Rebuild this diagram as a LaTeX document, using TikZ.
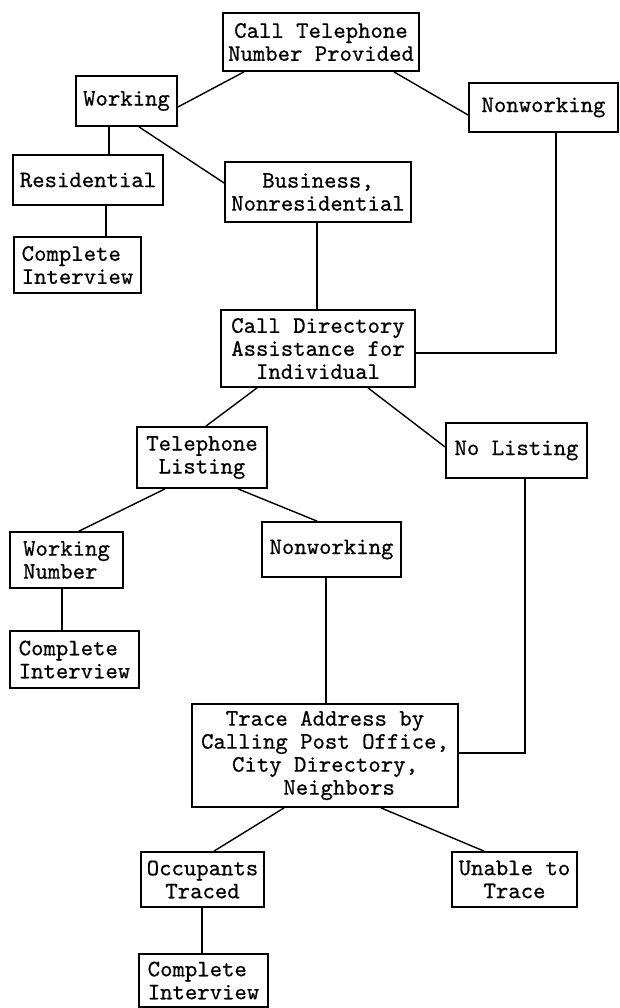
\documentclass[tikz,border=0pt]{standalone}
\usepackage{fontspec}
\newfontfamily\twfont{lmmono10-regular.otf}[BoldFont=lmmono10-regular.otf,BoldFeatures={FakeBold=0.6}]
\begin{document}
\begin{tikzpicture}[x=1pt,y=-1pt,
  box/.style={draw,line width=1.8pt,inner sep=0pt,align=center,
    font=\twfont\bfseries\fontsize{23.6}{23}\selectfont},
  lbox/.style={box,align=left},
  conn/.style={line width=1.4pt}]
\useasboundingbox[fill=white] (0,0) rectangle (620,1008);
% boxes
\node[box,minimum width=196pt,minimum height=58pt] (ctn) at (321,42) {Call Telephone\\Number Provided};
\node[box,minimum width=101pt,minimum height=50pt] (wrk) at (126.5,101) {Working};
\node[box,minimum width=149pt,minimum height=49pt] (nw1) at (543.5,107.5) {Nonworking};
\node[box,minimum width=150pt,minimum height=50pt] (res) at (88,180) {Residential};
\node[box,minimum width=186pt,minimum height=60pt] (bus) at (318,192) {Business,\\Nonresidential};
\node[lbox,minimum width=127pt,minimum height=56pt] (ci1) at (77.5,265) {Complete\\Interview};
\node[box,minimum width=194pt,minimum height=77pt] (cda) at (318,348.5) {Call Directory\\Assistance for\\Individual};
\node[box,minimum width=130pt,minimum height=61pt] (tl) at (202,457.5) {Telephone\\Listing};
\node[box,minimum width=141pt,minimum height=55pt] (nl) at (516.5,450.5) {No Listing};
\node[lbox,minimum width=113pt,minimum height=56pt] (wn) at (66.5,560) {Working\\Number};
\node[box,minimum width=139pt,minimum height=55pt] (nw2) at (331.5,549.5) {Nonworking};
\node[lbox,minimum width=129pt,minimum height=57pt] (ci2) at (74.5,659.5) {Complete\\Interview};
\node[box,minimum width=266pt,minimum height=103pt] (tr) at (325,755.5) {Trace Address by\\Calling Post Office,\\City Directory,\\\hspace*{1.2em}Neighbors};
\node[box,minimum width=123pt,minimum height=55pt] (ot) at (202.5,879.5) {Occupants\\Traced};
\node[box,minimum width=125pt,minimum height=55pt] (ut) at (514.5,879.5) {Unable to\\Trace};
\node[lbox,minimum width=129pt,minimum height=53pt] (ci3) at (203.5,980.5) {Complete\\Interview};
% connectors
\draw[conn] (ctn.south -| 244,0) -- (wrk.east |- 0,107);
\draw[conn] (ctn.south -| 394,0) -- (nw1.west |- 0,115);
\draw[conn] (wrk.south -| 109,0) -- (res.north -| 109,0);
\draw[conn] (wrk.south -| 139,0) -- (bus.west |- 0,183);
\draw[conn] (res.south -| 106,0) -- (ci1.north -| 106,0);
\draw[conn] (bus.south -| 317,0) -- (cda.north -| 317,0);
\draw[conn] (nw1.south -| 556,0) -- (556,353) -- (cda.east |- 0,353);
\draw[conn] (cda.south -| 257,0) -- (tl.north -| 206,0);
\draw[conn] (cda.south -| 368,0) -- (nl.west |- 0,447);
\draw[conn] (tl.south -| 165,0) -- (wn.north -| 79,0);
\draw[conn] (tl.south -| 238,0) -- (nw2.north -| 317,0);
\draw[conn] (wn.south -| 62,0) -- (ci2.north -| 62,0);
\draw[conn] (nw2.south -| 326,0) -- (tr.north -| 326,0);
\draw[conn] (nl.south -| 525,0) -- (525,753) -- (tr.east |- 0,753);
\draw[conn] (tr.south -| 284,0) -- (ot.north -| 214,0);
\draw[conn] (tr.south -| 381,0) -- (ut.north -| 484,0);
\draw[conn] (ot.south -| 202,0) -- (ci3.north -| 202,0);
\end{tikzpicture}
\end{document}
